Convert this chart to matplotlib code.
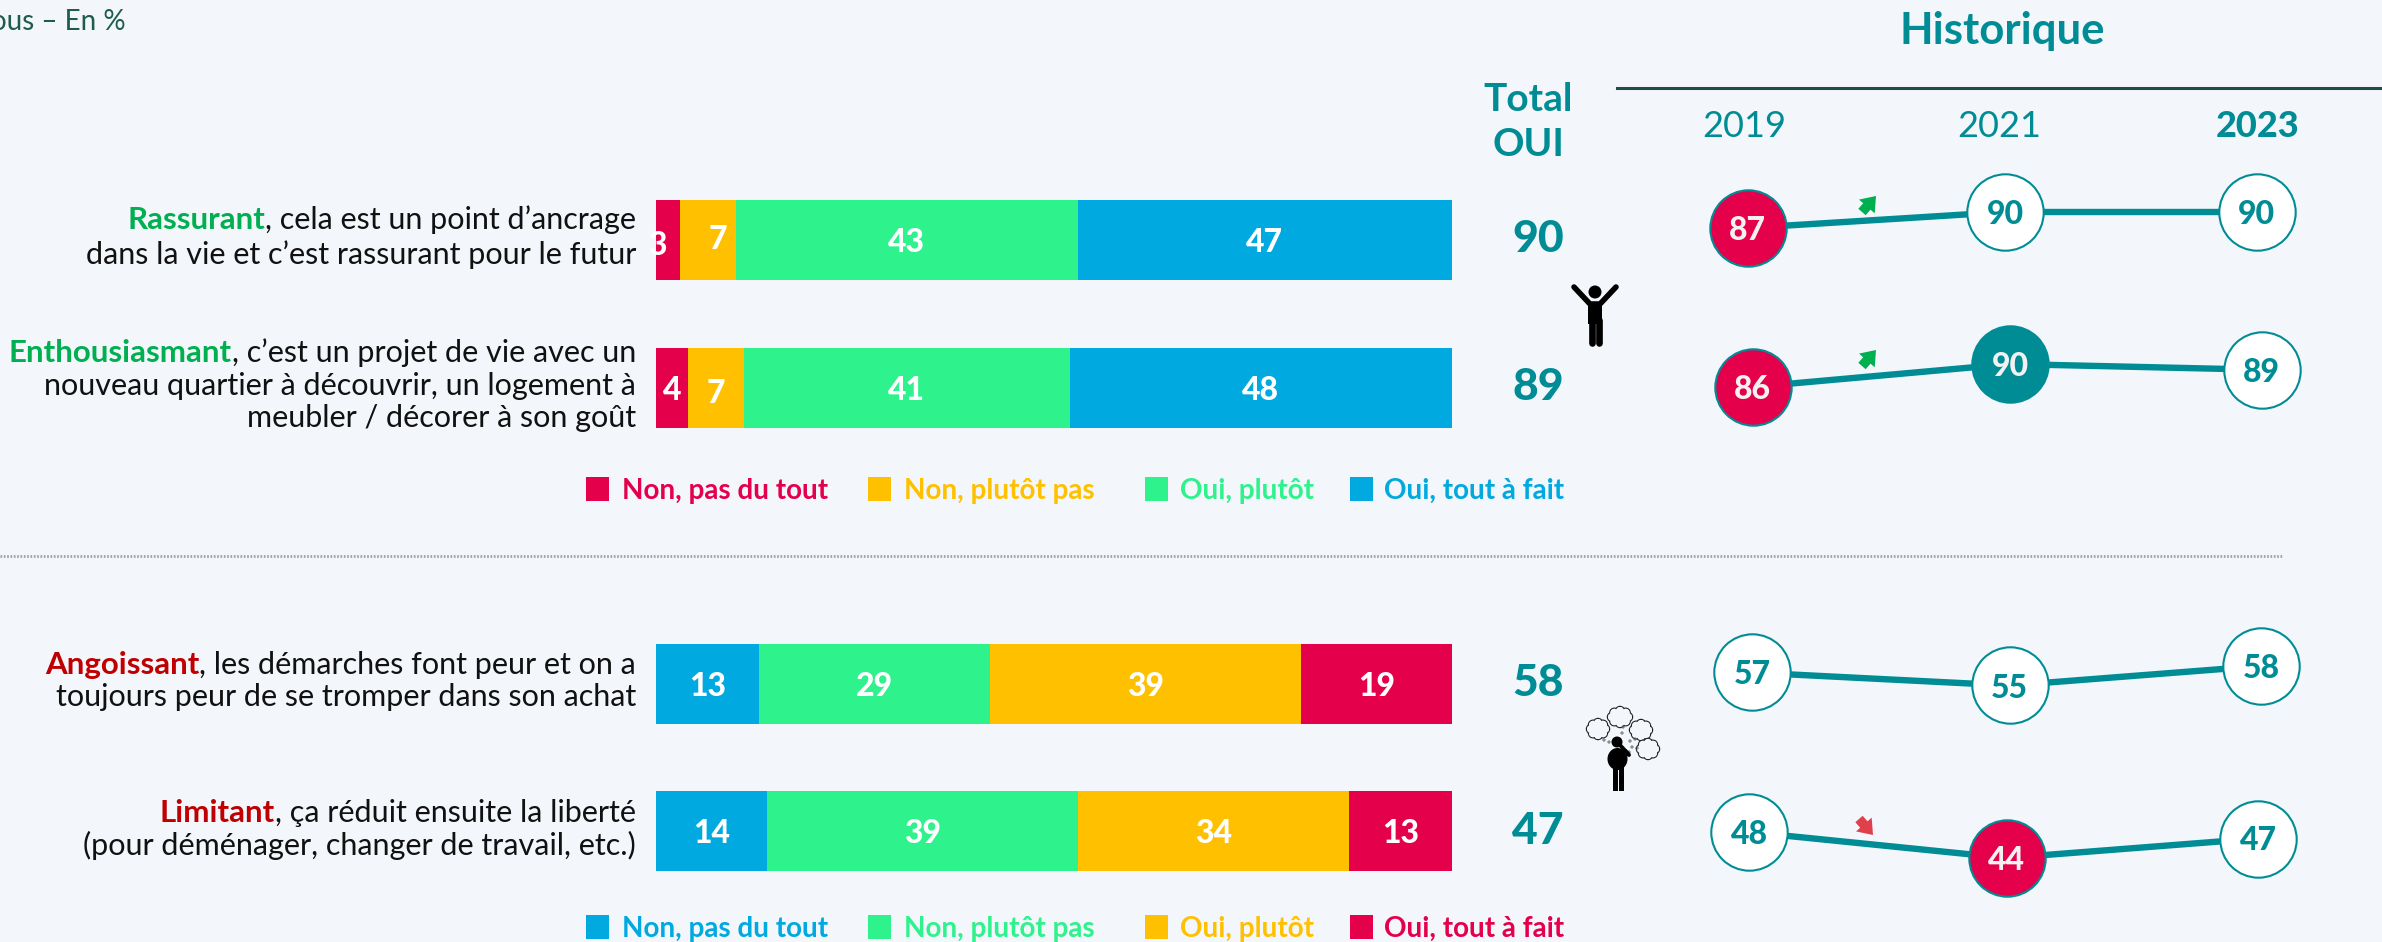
import numpy as np
import matplotlib
matplotlib.use('Agg')
import matplotlib.pyplot as plt
from matplotlib.patches import Circle, Ellipse, FancyArrowPatch, Rectangle

W, H = 2382, 942
BG = '#F3F6FB'
TEAL = '#008C95'
RED = '#E4004B'
AMBER = '#FFC000'
GREEN = '#2EF28C'
BLUE = '#00A9E0'
FONT = 'Lato'

### DATA ###

top_labels = [
    ('Rassurant', ', cela est un point d’ancrage', ['dans la vie et c’est rassurant pour le futur']),
    ('Enthousiasmant', ', c’est un projet de vie avec un',
     ['nouveau quartier à découvrir, un logement à', 'meubler / décorer à son goût']),
]
bottom_labels = [
    ('Angoissant', ', les démarches font peur et on a', ['toujours peur de se tromper dans son achat']),
    ('Limitant', ', ça réduit ensuite la liberté', ['(pour déménager, changer de travail, etc.)']),
]
top_values = np.array([[3, 7, 43, 47], [4, 7, 41, 48]])
bottom_values = np.array([[13, 29, 39, 19], [14, 39, 34, 13]])
top_colors = [RED, AMBER, GREEN, BLUE]
bottom_colors = [BLUE, GREEN, AMBER, RED]
legend_names = ['Non, pas du tout', 'Non, plutôt pas', 'Oui, plutôt', 'Oui, tout à fait']
total_oui = [90, 89, 58, 47]
years = ['2019', '2021', '2023']
history = [[87, 90, 90], [86, 90, 89], [57, 55, 58], [48, 44, 47]]
history_fill = [[RED, 'white', 'white'], [RED, TEAL, 'white'],
                ['white', 'white', 'white'], ['white', RED, 'white']]


def px_axes(x0, y0, x1, y1):
    # axes placed with pixel coordinates of the picture (origin top left)
    ax = fig.add_axes([x0 / W, 1 - y1 / H, (x1 - x0) / W, (y1 - y0) / H])
    ax.axis('off')
    ax.patch.set_alpha(0)
    return ax


fig = plt.figure(figsize=(W / 100, H / 100), dpi=100, facecolor=BG)
plt.rcParams['font.family'] = [FONT, 'DejaVu Sans']

# overlay in pixels for the furniture
deco = px_axes(0, 0, W, H)
deco.set_xlim(0, W)
deco.set_ylim(H, 0)

### BARS ###


def draw_bars(values, colors, y0, y1, dx):
    ax = px_axes(656, y0, 1452, y1)
    ax.set_xlim(0, 100)
    ax.set_ylim(1.5, -0.5)
    for r, row in enumerate(values):
        left = 0
        for c, v in enumerate(row):
            ax.barh(r, v, left=left, height=0.54, color=colors[c], linewidth=0)
            off = dx.get((r, c), (0, 0))
            ax.text(left + v / 2 + off[0], r + off[1], str(v), color='white', fontsize=23, fontweight='black',
                    ha='center', va='center_baseline', clip_on=False)
            left += v


draw_bars(top_values, top_colors, 166, 462, {(0, 0): (-1.3, 0.02), (0, 1): (1.3, -0.02), (1, 1): (0, 0.02)})
draw_bars(bottom_values, bottom_colors, 610, 905, {})

### ROW LABELS ###

renderer = fig.canvas.get_renderer()


def row_label(first, rest, color, baselines):
    t = fig.text(636 / W, 1 - baselines[0] / H, first[1], fontsize=22, color='#111111', ha='right', va='baseline')
    x0 = t.get_window_extent(renderer).x0
    fig.text(x0 / W, 1 - baselines[0] / H, first[0], fontsize=22.5, color=color, fontweight='bold',
             ha='right', va='baseline')
    for line, y in zip(rest, baselines[1:]):
        fig.text(636 / W, 1 - y / H, line, fontsize=22, color='#111111', ha='right', va='baseline')


row_label(top_labels[0][:2], top_labels[0][2], '#00B050', [229, 264])
row_label(top_labels[1][:2], top_labels[1][2], '#00B050', [362, 395, 427])
row_label(bottom_labels[0][:2], bottom_labels[0][2], '#C00000', [674, 706])
row_label(bottom_labels[1][:2], bottom_labels[1][2], '#C00000', [822, 855])

### LEGENDS ###

swatch_x = [586, 868, 1145, 1350]
text_x = [622, 904, 1180, 1384]
for y, colors in [(477, top_colors), (915, bottom_colors)]:
    for i, name in enumerate(legend_names):
        deco.add_patch(Rectangle((swatch_x[i], y), 23, 24, color=colors[i], linewidth=0))
        deco.text(text_x[i], y + 22, name, color=colors[i], fontsize=20.1, fontweight='bold', ha='left', va='baseline')

### HEADERS ###

deco.text(126, 30, 'ous – En %', color='#1F5C4D', fontsize=20, ha='right', va='baseline')
deco.text(2002, 44, 'Historique', color=TEAL, fontsize=31.5, fontweight='bold', ha='center', va='baseline')
deco.plot([1617, W], [88, 88], color='#1F4E46', lw=2.2)
deco.text(1528, 111, 'Total', color=TEAL, fontsize=28, fontweight='bold', ha='center', va='baseline')
deco.text(1528, 156, 'OUI', color=TEAL, fontsize=28, fontweight='bold', ha='center', va='baseline')
deco.plot([0, 2283], [556, 556], color='#A0A0A0', lw=2, ls=(0, (0.6, 0.6)))

for v, y in zip(total_oui, [236, 383, 679, 827]):
    deco.text(1538, y, str(v), color=TEAL, fontsize=32, fontweight='black', ha='center', va='center_baseline')

### HISTORY ###

year_x = [0, 257.5, 509]
# x of first point, reference value, its pixel y, pixels per point
history_layout = [(1747.5, 90, 212, 5.33), (1752.5, 90, 364, 5.75), (1752, 57, 672.5, 6.5), (1749, 48, 832, 6.5)]

for values, fills, (x0, vref, yref, scale) in zip(history, history_fill, history_layout):
    ax = px_axes(x0, yref - 100, x0 + 509, yref + 100)
    ax.set_xlim(0, 509)
    ax.set_ylim(vref - 100 / scale, vref + 100 / scale)
    ax.plot(year_x, values, color=TEAL, lw=4.6, solid_capstyle='butt', zorder=1)
    for x, v, f in zip(year_x, values, fills):
        ax.plot([x], [v], 'o', ms=55, mfc=f, mec=TEAL, mew=1.5, clip_on=False, zorder=2)
        ax.text(x, v, str(v), color=TEAL if f == 'white' else '#F2F2F2', fontsize=23, fontweight='black',
                ha='center', va='center_baseline', zorder=3)

for x, year, weight in zip([1744, 1999, 2258], years, ['normal', 'normal', 'black']):
    deco.text(x, 137, year, color=TEAL, fontsize=26, fontweight=weight, ha='center', va='baseline')

### SMALL ARROWS ###

for (xa, ya, xb, yb, c) in [(1862, 212, 1876, 196, '#00B050'), (1862, 366, 1876, 350, '#00B050'),
                            (1859, 819, 1873, 835, '#E0404A')]:
    deco.add_patch(FancyArrowPatch((xa, ya), (xb, yb), arrowstyle='simple,head_width=15,head_length=10,tail_width=7',
                                   color=c, linewidth=0, mutation_scale=1, shrinkA=0, shrinkB=0))

### ICONS ###

# person with raised arms
deco.add_patch(Circle((1595, 292), 6.5, color='black', lw=0))
deco.plot([1574, 1590, 1600, 1616], [287, 304, 304, 287], color='black', lw=4, solid_capstyle='round',
          solid_joinstyle='round')
deco.add_patch(Rectangle((1588, 302), 14, 22, color='black', lw=0))
deco.plot([1591.5, 1591.5], [320, 343], color='black', lw=4.8, solid_capstyle='round')
deco.plot([1598.5, 1598.5], [320, 343], color='black', lw=4.8, solid_capstyle='round')

# thinking person
deco.add_patch(Circle((1617, 742), 5.5, color='black', lw=0))
deco.add_patch(Ellipse((1617.5, 759), 20, 22, color='black', lw=0))
deco.plot([1626, 1629, 1620], [752, 755, 745], color='black', lw=2.8)
deco.plot([1614.5, 1614.5], [765, 788], color='black', lw=3.6)
deco.plot([1620.5, 1620.5], [765, 788], color='black', lw=3.6)


def cloud(cx, cy, rx, ry):
    ang = np.arange(0, 2 * np.pi, np.pi / 4)
    lobes = [(cx + (rx - 4) * np.cos(a), cy + (ry - 4) * np.sin(a)) for a in ang]
    for xy in lobes:
        deco.add_patch(Circle(xy, 4.6, fc=BG, ec='#222222', lw=0.9))
    # hide the lobe outlines that fall inside the cloud
    for xy in lobes:
        deco.add_patch(Circle(xy, 4, fc=BG, ec='none', lw=0))
    deco.add_patch(Ellipse((cx, cy), 2 * rx - 5, 2 * ry - 5, fc=BG, ec='none', lw=0))


for c in [(1598, 729, 11, 10), (1620, 717, 12, 10), (1641, 730, 11, 10), (1648, 749, 11, 10)]:
    cloud(*c)
for x, y in [(1604, 740), (1609, 742), (1622, 733), (1623, 727), (1630, 741), (1635, 739), (1632, 747), (1637, 748),
             (1629, 752)]:
    deco.add_patch(Circle((x, y), 1.1, fc='none', ec='#555555', lw=0.6))

plt.savefig('out.png', dpi=100, facecolor=BG)
plt.close()
